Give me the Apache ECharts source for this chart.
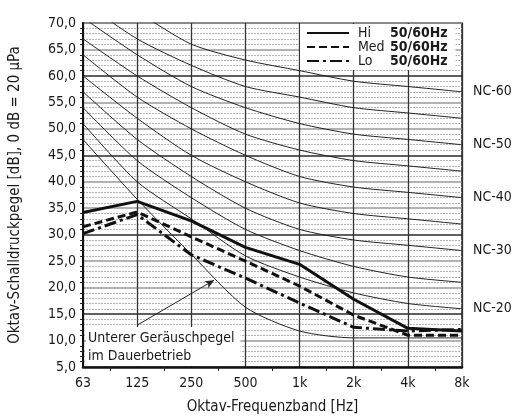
<!DOCTYPE html>
<html>
<head>
<meta charset="utf-8">
<script src="https://cdn.jsdelivr.net/npm/echarts@6/dist/echarts.min.js"></script>
<style>
  html, body { margin: 0; padding: 0; background: #fff; }
  #chart { width: 522px; height: 420px; }
</style>
</head>
<body>
<div id="chart"></div>
<script>
// Achsen
const freqLabels = ['63', '125', '250', '500', '1k', '2k', '4k', '8k'];

// NC-Kurven (dB je Oktavband 63 ... 8k)
const ncNames = ['NC-20', 'NC-25', 'NC-30', 'NC-35', 'NC-40', 'NC-45', 'NC-50', 'NC-55', 'NC-60'];
const nc20 = [51, 40, 33, 26, 22, 19, 17, 16];
const nc25 = [54, 44, 37, 31, 27, 24, 22, 21];
const nc30 = [57, 48, 41, 35, 31, 29, 28, 27];
const nc35 = [60, 52, 45, 40, 36, 34, 33, 32];
const nc40 = [64, 56, 50, 45, 41, 39, 38, 37];
const nc45 = [67, 60, 54, 49, 46, 44, 43, 42];
const nc50 = [71, 64, 58, 54, 51, 49, 48, 47];
const nc55 = [74, 67, 62, 58, 56, 54, 53, 52];
const nc60 = [77, 72, 66, 63, 61, 59, 58, 57];
const ncValues = [nc20, nc25, nc30, nc35, nc40, nc45, nc50, nc55, nc60];
const ncLabeled = ['NC-20', 'NC-30', 'NC-40', 'NC-50', 'NC-60'];

// unterer Geräuschpegel
const lowerLimit = [48, 36.7, 26.3, 16.3, 11.8, 10.5, 10.5, 10.5];

// Messkurven
const hiValues = [34.2, 36.3, 32.6, 27.6, 24.4, 17.8, 12.3, 11.8];
const medValues = [31.5, 34.3, 29.6, 25.0, 20.3, 14.8, 11.0, 11.0];
const loValues = [30.2, 33.8, 26.2, 21.8, 17.1, 12.5, 11.8, 12.1];

const FONT = "'Liberation Sans Narrow', 'DejaVu Sans Condensed', sans-serif";
const INK = '#1a1a1a';

const toPoints = arr => arr.map((v, i) => [i, v]);

const chart = echarts.init(document.getElementById('chart'));

const ncSeries = ncNames.map((name, k) => ({
    name: name,
    type: 'line',
    data: toPoints(ncValues[k]),
    symbol: 'none',
    smooth: 0.25,
    silent: true,
    z: 2,
    lineStyle: { color: '#222', width: 1 },
    endLabel: {
        show: ncLabeled.includes(name),
        formatter: name,
        distance: 11,
        color: INK,
        fontSize: 14,
        fontFamily: FONT
    }
}));

const option = {
    animation: false,
    textStyle: { fontFamily: FONT, color: INK },
    title: {
        text: 'Unterer Geräuschpegel\nim Dauerbetrieb',
        left: 86,
        top: 327,
        padding: [2, 6, 1, 2],
        backgroundColor: '#fff',
        z: 6,
        textStyle: { fontSize: 14, fontWeight: 'normal', lineHeight: 18, color: INK, fontFamily: FONT }
    },
    legend: {
        data: ['Hi', 'Med', 'Lo'],
        orient: 'vertical',
        left: 300,
        top: 24,
        padding: [2, 8, 2, 6],
        itemGap: 0,
        itemWidth: 42,
        itemHeight: 13,
        backgroundColor: '#fff',
        selectedMode: false,
        itemStyle: { opacity: 0 },
        formatter: name => '{a|' + name + '}{b|50/60Hz}',
        textStyle: {
            fontFamily: FONT,
            fontSize: 14,
            color: INK,
            rich: {
                a: { width: 32, padding: [0, 0, 0, 4], fontSize: 14, lineHeight: 13, fontFamily: FONT, color: INK },
                b: { fontWeight: 'bold', fontSize: 14, lineHeight: 13, fontFamily: FONT, color: INK }
            }
        }
    },
    grid: {
        left: 83,
        right: 60,
        top: 23,
        bottom: 52,
        show: true,
        backgroundColor: '#fff',
        borderColor: '#222',
        borderWidth: 1.5
    },
    xAxis: {
        type: 'value',
        min: 0,
        max: 7,
        interval: 1,
        name: 'Oktav-Frequenzband [Hz]',
        nameLocation: 'middle',
        nameGap: 33,
        nameTextStyle: { fontSize: 15, color: INK, fontFamily: FONT },
        axisLine: { lineStyle: { color: '#111', width: 2.5 } },
        axisTick: { show: false },
        minorTick: { show: true, splitNumber: 2, length: 4, lineStyle: { color: '#222', width: 1 } },
        axisLabel: {
            formatter: v => freqLabels[v],
            fontSize: 14,
            color: INK,
            margin: 9,
            fontFamily: FONT
        },
        splitLine: { show: true, lineStyle: { color: '#333', width: 1.3 } }
    },
    yAxis: {
        type: 'value',
        min: 5,
        max: 70,
        interval: 5,
        name: 'Oktav-Schalldruckpegel [dB], 0 dB = 20 µPa',
        nameLocation: 'middle',
        nameGap: 60,
        nameTextStyle: { fontSize: 15, color: INK, fontFamily: FONT },
        axisLine: { lineStyle: { color: '#111', width: 2 } },
        axisTick: { show: false },
        minorTick: { show: true, splitNumber: 5, length: 3, lineStyle: { color: '#222', width: 1 } },
        axisLabel: {
            formatter: v => v.toFixed(1).replace('.', ','),
            fontSize: 14,
            color: INK,
            margin: 7,
            fontFamily: FONT
        },
        splitLine: {
            show: true,
            lineStyle: { color: ['#9a9a9a', '#9a9a9a', '#2a2a2a'], width: 1.6 }
        },
        minorSplitLine: {
            show: true,
            lineStyle: { color: '#b5b5b5', width: 1, type: [2, 1] }
        }
    },
    series: [
        ...ncSeries,
        {
            name: 'Unterer',
            type: 'line',
            data: toPoints(lowerLimit),
            symbol: 'none',
            smooth: 0.25,
            silent: true,
            z: 2,
            lineStyle: { color: '#222', width: 1 },
            markLine: {
                silent: true,
                symbol: ['none', 'arrow'],
                symbolSize: [6, 9],
                label: { show: false },
                lineStyle: { color: '#222', width: 1, type: 'solid' },
                data: [[{ coord: [1.0, 12.9] }, { coord: [2.42, 21.4] }]]
            }
        },
        {
            name: 'Hi',
            type: 'line',
            data: toPoints(hiValues),
            symbol: 'none',
            z: 5,
            color: '#111',
            lineStyle: { color: '#111', width: 3 }
        },
        {
            name: 'Med',
            type: 'line',
            data: toPoints(medValues),
            symbol: 'none',
            z: 5,
            color: '#111',
            lineStyle: { color: '#111', width: 3, type: [8, 4] }
        },
        {
            name: 'Lo',
            type: 'line',
            data: toPoints(loValues),
            symbol: 'none',
            z: 5,
            color: '#111',
            lineStyle: { color: '#111', width: 3, type: [12, 4, 3, 4] }
        }
    ]
};

chart.setOption(option);
</script>
</body>
</html>
